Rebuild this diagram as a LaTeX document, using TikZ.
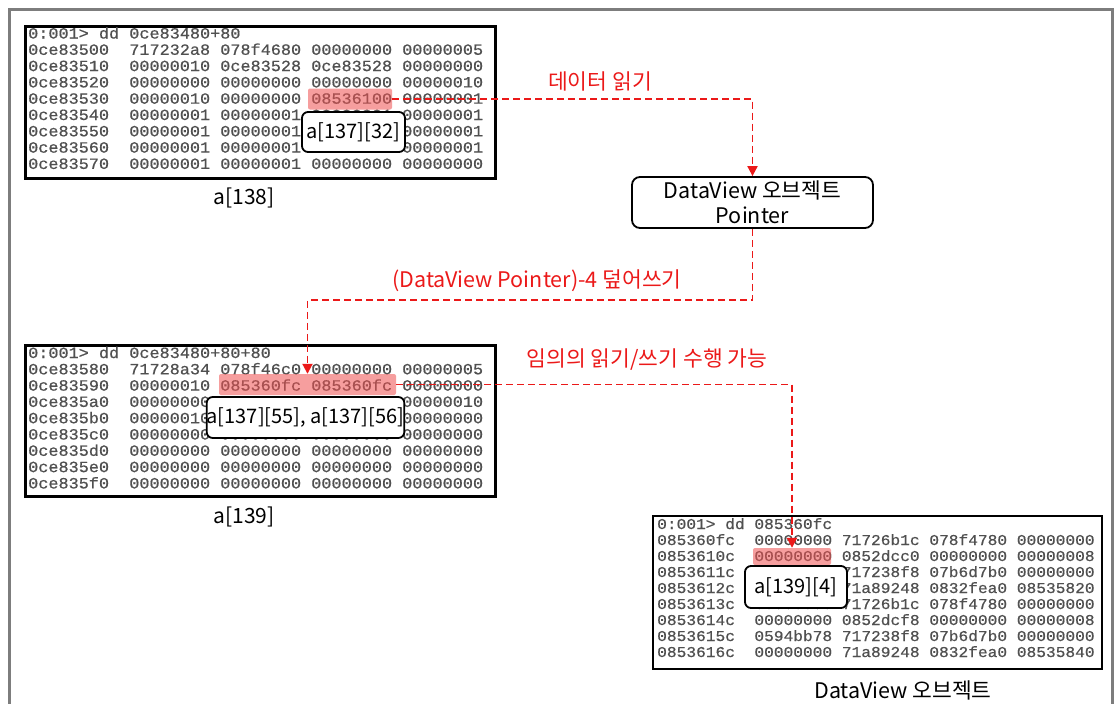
\documentclass[tikz,border=0pt]{standalone}
\usepackage{fontspec}
\usetikzlibrary{arrows.meta}
\newfontfamily\dumpfont{Liberation Mono}[FakeStretch=1.08,FakeBold=0.6]
\newfontfamily\krfont{Noto Sans CJK KR}
\definecolor{dumpgray}{RGB}{80,80,80}
\definecolor{hlred}{RGB}{240,80,80}
\definecolor{arrred}{RGB}{235,25,25}
\definecolor{framegray}{RGB}{125,125,125}
\begin{document}
\begin{tikzpicture}[x=1pt,y=-1pt,
  dumpbox/.style={draw=black, line width=2.5pt, fill=white, inner sep=0pt, anchor=north west},
  dumptxt/.style={font=\dumpfont\fontsize{15.6}{16}\selectfont, text=dumpgray, inner sep=0pt, anchor=base west},
  dumptxtb/.style={dumptxt, font=\dumpfont\fontsize{15}{16}\selectfont},
  hl/.style={fill=hlred, fill opacity=0.55, rounded corners=2pt, inner sep=0pt, draw=none},
  tag/.style={draw=black, line width=1.8pt, fill=white, rounded corners=6pt, inner sep=0pt, font=\krfont\fontsize{20}{24}\selectfont},
  caption/.style={font=\krfont\fontsize{21}{24}\selectfont, inner sep=0pt},
  redlabel/.style={caption, font=\krfont\fontsize{21.5}{24}\selectfont, text=arrred},
  flow/.style={draw=arrred, line width=1.9pt, dash pattern=on 7pt off 4pt, -{Triangle[length=10pt,width=10pt]}},
]
\useasboundingbox (0,0) rectangle (1114,704);
\draw[framegray, line width=2.2pt] (9.5,704) -- (9.5,9.5) -- (1112.5,9.5) -- (1112.5,704);

% dump boxes
\node[dumpbox, minimum width=470pt, minimum height=152pt] (db1) at (24,25) {};
\node[dumpbox, minimum width=470pt, minimum height=151pt] (db2) at (24,344) {};
\node[dumpbox, minimum width=449pt, minimum height=153pt, line width=2.2pt] (db3) at (652,515) {};

% dump 1 text
\foreach \row [count=\i from 0] in {
  {0:001> dd 0ce83480+80},
  {0ce83500~~717232a8 078f4680 00000000 00000005},
  {0ce83510~~00000010 0ce83528 0ce83528 00000000},
  {0ce83520~~00000000 00000000 00000000 00000010},
  {0ce83530~~00000010 00000000 08536100 00000001},
  {0ce83540~~00000001 00000001 00000001 00000001},
  {0ce83550~~00000001 00000001 00000001 00000001},
  {0ce83560~~00000001 00000001 00000001 00000001},
  {0ce83570~~00000001 00000001 00000000 00000000}}
  \node[dumptxt] (d1r\i) at (28,{38.5+16.3*\i}) {\row};

% dump 2 text
\foreach \row [count=\i from 0] in {
  {0:001> dd 0ce83480+80+80},
  {0ce83580~~71728a34 078f46c0 00000000 00000005},
  {0ce83590~~00000010 085360fc 085360fc 00000000},
  {0ce835a0~~00000000 00000000 00000000 00000010},
  {0ce835b0~~00000010 00000000 00000000 00000000},
  {0ce835c0~~00000000 00000000 00000000 00000000},
  {0ce835d0~~00000000 00000000 00000000 00000000},
  {0ce835e0~~00000000 00000000 00000000 00000000},
  {0ce835f0~~00000000 00000000 00000000 00000000}}
  \node[dumptxt] (d2r\i) at (28,{358+16.3*\i}) {\row};

% dump 3 text
\foreach \row [count=\i from 0] in {
  {0:001> dd 085360fc},
  {085360fc~~00000000 71726b1c 078f4780 00000000},
  {0853610c~~00000000 0852dcc0 00000000 00000008},
  {0853611c~~00000000 717238f8 07b6d7b0 00000000},
  {0853612c~~00000000 71a89248 0832fea0 08535820},
  {0853613c~~00000000 71726b1c 078f4780 00000000},
  {0853614c~~00000000 0852dcf8 00000000 00000008},
  {0853615c~~0594bb78 717238f8 07b6d7b0 00000000},
  {0853616c~~00000000 71a89248 0832fea0 08535840}}
  \node[dumptxtb] (d3r\i) at (657,{529+16*\i}) {\row};

% highlights
\node[hl, minimum width=84pt, minimum height=21pt] (hl1) at (350,99) {};
\node[hl, minimum width=177pt, minimum height=21pt] (hl2) at (307.5,384.5) {};
\node[hl, minimum width=78pt, minimum height=17pt] (hl3) at (792,556.5) {};

% tags
\node[tag, minimum width=103pt, minimum height=40pt] (t1) at (353.5,132) {a[137][32]};
\node[tag, minimum width=197pt, minimum height=41pt] (t2) at (305.5,417.5) {a[137][55], a[137][56]};
\node[tag, minimum width=102pt, minimum height=42pt] (t3) at (796,587) {a[139][4]};

% DataView pointer box
\node[tag, rounded corners=8pt, minimum width=241pt, minimum height=51pt, align=center,
      font=\krfont\fontsize{21.5}{25}\selectfont] (dv) at (752.5,202.5) {DataView 오브젝트\\Pointer};

% captions
\node[caption] (c1) at (244,198) {a[138]};
\node[caption] (c2) at (244,517) {a[139]};
\node[caption, font=\krfont\fontsize{21.5}{24}\selectfont] (c3) at (903,690) {DataView 오브젝트};

% red labels
\node[redlabel] (l1) at (600,81) {데이터 읽기};
\node[redlabel] (l2) at (537,281) {(DataView Pointer)-4 덮어쓰기};
\node[redlabel] (l3) at (647,360) {임의의 읽기/쓰기 수행 가능};

% connectors
\coordinate (bend2) at (752.5,300);
\draw[flow] (hl1.east) -| (dv.north);
\draw[flow] (dv.south) -- (bend2) -| (hl2.north);
\draw[flow] (hl2.east) -| (hl3.north);
\end{tikzpicture}
\end{document}
